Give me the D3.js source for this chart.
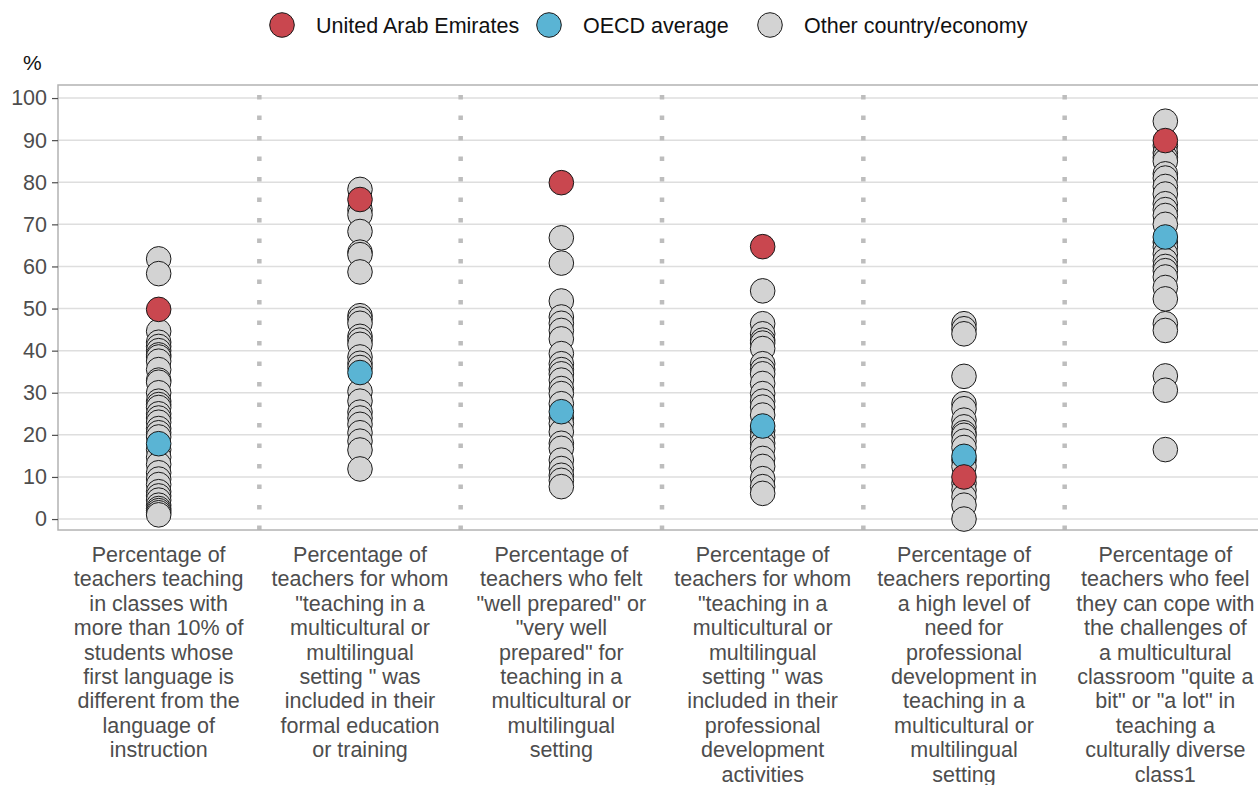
<!DOCTYPE html>
<html>
<head>
<meta charset="utf-8">
<script src="https://cdn.jsdelivr.net/npm/d3@7"></script>
<style>
  body { margin: 0; background: #fff; }
  text { font-family: "Liberation Sans", Arial, sans-serif; }
</style>
</head>
<body>
<svg id="chart" width="1258" height="785"></svg>
<script>
// category labels, split the way the reference wraps them
const categories = [
  ['Percentage of', 'teachers teaching', 'in classes with', 'more than 10% of', 'students whose', 'first language is', 'different from the', 'language of', 'instruction'],
  ['Percentage of', 'teachers for whom', '"teaching in a', 'multicultural or', 'multilingual', 'setting " was', 'included in their', 'formal education', 'or training'],
  ['Percentage of', 'teachers who felt', '"well prepared" or', '"very well', 'prepared" for', 'teaching in a', 'multicultural or', 'multilingual', 'setting'],
  ['Percentage of', 'teachers for whom', '"teaching in a', 'multicultural or', 'multilingual', 'setting " was', 'included in their', 'professional', 'development', 'activities'],
  ['Percentage of', 'teachers reporting', 'a high level of', 'need for', 'professional', 'development in', 'teaching in a', 'multicultural or', 'multilingual', 'setting'],
  ['Percentage of', 'teachers who feel', 'they can cope with', 'the challenges of', 'a multicultural', 'classroom "quite a', 'bit" or "a lot" in', 'teaching a', 'culturally diverse', 'class1']
]

// other countries/economies, one list per category
const others1 = [61.8, 58.3, 44.6, 42, 41, 40, 39, 38.5, 37.5, 35.5, 33, 32.5, 30, 28, 27.2, 26.5, 25, 24, 23, 21.5, 20.5, 19.5, 16.5, 14.7, 13, 11, 9.5, 8.2, 6.5, 5.5, 4.5, 3.3, 2.5, 2, 1.5, 1]
const others2 = [78.3, 73.5, 72.3, 68.3, 63.4, 62.8, 58.7, 48.3, 47.5, 46.5, 43.4, 42.5, 41.5, 38.5, 37, 36, 30.3, 28, 25.4, 24, 22.5, 20.5, 18.5, 16.4, 11.9]
const others3 = [66.8, 60.8, 51.8, 48, 46.5, 44.8, 42.8, 39.3, 36.9, 35.5, 34.5, 33, 31, 29.8, 27.4, 24, 22.7, 20.7, 18, 16.8, 14, 12, 10.4, 9.2, 7.7]
const others4 = [54.2, 46.4, 44, 42.5, 41.8, 40.5, 36.9, 35.5, 34.5, 32.2, 29.8, 28, 26.6, 24.7, 21, 19.5, 18, 16.8, 14.4, 12.5, 9.6, 7.7, 6.1]
const others5 = [46.4, 45.2, 44, 33.9, 27.4, 26.2, 23.5, 21.9, 20.5, 19.9, 18.5, 17, 14, 12.5, 8.5, 6.9, 5.3, 3.3, 0]
const others6 = [94.5, 88.7, 87, 85.9, 85, 82, 81, 79, 77.2, 74.9, 73.5, 72.1, 70, 65.8, 64.6, 63, 61.4, 60, 59, 57.5, 55, 52.3, 46.4, 44.8, 34, 30.6, 16.5]
const others = [others1, others2, others3, others4, others5, others6]

const uae = [49.8, 75.9, 79.9, 64.7, 10, 89.9]
const oecd = [17.9, 34.8, 25.5, 22.1, 14.9, 67]

const yTicks = [0, 10, 20, 30, 40, 50, 60, 70, 80, 90, 100]

const legendItems = [
  { label: 'United Arab Emirates', color: '#c9474f' },
  { label: 'OECD average', color: '#5ab4d4' },
  { label: 'Other country/economy', color: '#d3d3d3' }
]

const svg = d3.select('#chart')
const panelLeft = 58
const panelTop = 85
const panelBottom = 530
const panelRight = 1266

const x = d3.scaleBand()
  .domain(d3.range(categories.length))
  .range([panelLeft, panelRight])

const y = d3.scaleLinear()
  .domain([-2.6, 103.1])
  .range([panelBottom, panelTop])

// grid
svg.append('g')
  .selectAll('line')
  .data(yTicks)
  .join('line')
  .attr('x1', panelLeft)
  .attr('x2', panelRight)
  .attr('y1', d => y(d))
  .attr('y2', d => y(d))
  .attr('stroke', '#dedede')
  .attr('stroke-width', 1.5)

// dotted separators between categories
svg.append('g')
  .selectAll('line')
  .data(d3.range(1, categories.length))
  .join('line')
  .attr('x1', d => x(d))
  .attr('x2', d => x(d))
  .attr('y1', y(100) - 3)
  .attr('y2', panelBottom)
  .attr('stroke', '#bdbdbd')
  .attr('stroke-width', 4.5)
  .attr('stroke-dasharray', '4.5 16')

// panel border
svg.append('rect')
  .attr('x', panelLeft)
  .attr('y', panelTop)
  .attr('width', panelRight - panelLeft)
  .attr('height', panelBottom - panelTop)
  .attr('fill', 'none')
  .attr('stroke', '#b3b3b3')
  .attr('stroke-width', 1.5)

// y axis
const yAxis = svg.append('g')
  .attr('transform', `translate(${panelLeft},0)`)
  .call(d3.axisLeft(y).tickValues(yTicks).tickSize(6).tickPadding(5))
yAxis.select('.domain').remove()
yAxis.selectAll('line').attr('stroke', '#4d4d4d').attr('stroke-width', 1.2)
yAxis.selectAll('text')
  .attr('fill', '#4d4d4d')
  .style('font-size', '21.5px')
  .style('font-family', '"Liberation Sans", Arial, sans-serif')

svg.append('text')
  .attr('x', 23)
  .attr('y', 70)
  .attr('fill', '#111')
  .style('font-size', '21px')
  .text('%')

// points
const cx = i => x(i) + x.bandwidth() / 2
const r = 12.3

const greyPoints = others.flatMap((list, i) => list.map(v => ({ i, v })))

svg.append('g')
  .selectAll('circle')
  .data(greyPoints)
  .join('circle')
  .attr('cx', d => cx(d.i))
  .attr('cy', d => y(d.v))
  .attr('r', r)
  .attr('fill', legendItems[2].color)
  .attr('stroke', '#1a1a1a')
  .attr('stroke-width', 1)

svg.append('g')
  .selectAll('circle')
  .data(oecd)
  .join('circle')
  .attr('cx', (d, i) => cx(i))
  .attr('cy', d => y(d))
  .attr('r', r)
  .attr('fill', legendItems[1].color)
  .attr('stroke', '#1a1a1a')
  .attr('stroke-width', 1)

svg.append('g')
  .selectAll('circle')
  .data(uae)
  .join('circle')
  .attr('cx', (d, i) => cx(i))
  .attr('cy', d => y(d))
  .attr('r', r)
  .attr('fill', legendItems[0].color)
  .attr('stroke', '#1a1a1a')
  .attr('stroke-width', 1)

// category labels
const labels = svg.append('g')
  .selectAll('text')
  .data(categories)
  .join('text')
  .attr('x', (d, i) => cx(i))
  .attr('y', 562)
  .attr('text-anchor', 'middle')
  .attr('fill', '#4d4d4d')
  .style('font-size', '21.5px')

labels.selectAll('tspan')
  .data(d => d)
  .join('tspan')
  .attr('x', function () { return d3.select(this.parentNode).attr('x') })
  .attr('dy', (d, j) => j === 0 ? 0 : 24.4)
  .text(d => d)

// legend
const legendX = [282, 549, 770]
const legend = svg.append('g')
  .selectAll('g')
  .data(legendItems)
  .join('g')
  .attr('transform', (d, i) => `translate(${legendX[i]},25)`)

legend.append('circle')
  .attr('r', 12.3)
  .attr('fill', d => d.color)
  .attr('stroke', '#1a1a1a')
  .attr('stroke-width', 1)

legend.append('text')
  .attr('x', 34)
  .attr('y', 8)
  .attr('fill', '#111')
  .style('font-size', '21.5px')
  .text(d => d.label)
</script>
</body>
</html>
